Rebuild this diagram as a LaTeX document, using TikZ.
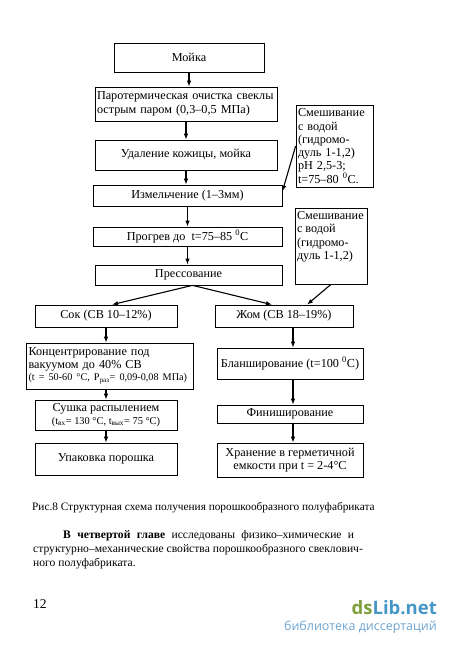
\documentclass[tikz,border=0pt]{standalone}
\usepackage{fontspec}
\setmainfont{Liberation Serif}
\newfontfamily\wmfont{Open Sans}
\usetikzlibrary{arrows.meta}
\definecolor{wmgreen}{RGB}{125,160,60}
\definecolor{wmblue}{RGB}{70,150,200}
\definecolor{wmlight}{RGB}{110,165,210}
\begin{document}
\begin{tikzpicture}[x=1pt,y=-1pt,
  box/.style={draw, line width=0.7pt, inner sep=2pt, font=\fontsize{12.2}{13.5}\selectfont, align=center},
  arr/.style={line width=1.1pt, -{Latex[length=6pt,width=4.5pt]}},
  txt/.style={anchor=base west, inner sep=0pt, font=\fontsize{11.6}{14}\selectfont}]
\useasboundingbox (0,0) rectangle (450,648);
\fill[white] (0,0) rectangle (450,648);

\node[box, minimum width=150pt, minimum height=29pt] (moika) at (189,57.5) {Мойка};
\node[box, minimum width=182pt, minimum height=34pt, text width=178pt, align=left] (paro) at (186,104) {Паротермическая очистка свеклы\\острым паром (0,3–0,5 МПа)};
\node[box, minimum width=182pt, minimum height=30pt] (udal) at (186,155) {Удаление кожицы, мойка};
\node[box, minimum width=189pt, minimum height=21pt] (izm) at (187.5,195.5) {Измельчение (1–3мм)};
\node[box, minimum width=189pt, minimum height=19pt] (progrev) at (187.5,236.5) {Прогрев до \ t=75–85 \textsuperscript{0}C};
\node[box, minimum width=187pt, minimum height=20pt] (press) at (188.5,275) {Прессование};

\node[box, minimum width=77pt, minimum height=82pt, text width=73pt, align=left, font=\fontsize{12.2}{13.3}\selectfont] (mix1) at (334.5,146) {Смешивание\\с водой\\(гидромо-\\дуль 1-1,2)\\pH 2,5-3;\\t=75–80 \textsuperscript{0}C.};
\node[box, minimum width=72pt, minimum height=76pt] (mix2) at (331,246) {\parbox[c][70pt][t]{68pt}{\raggedright Смешивание\\с водой\\(гидромо-\\дуль 1-1,2)}};

\node[box, minimum width=142pt, minimum height=22pt] (sok) at (106,316) {Сок (СВ 10–12\%)};
\node[box, minimum width=138pt, minimum height=22pt] (zhom) at (284,316) {Жом (СВ 18–19\%)};

\node[box, minimum width=166pt, minimum height=46pt, text width=163pt, align=left, font=\fontsize{12.2}{12.5}\selectfont] (konc) at (110,366) {Концентрирование под\\вакуумом до 40\% СВ\\\mbox{\fontsize{10.2}{11}\selectfont(t = 50-60 °C, P\textsubscript{раз}= 0,09-0,08 МПа)}};
\node[box, minimum width=146pt, minimum height=31pt] (blansh) at (290,363.5) {Бланширование (t=100 \textsuperscript{0}C)};
\node[box, minimum width=142pt, minimum height=30pt, font=\fontsize{12.2}{12.5}\selectfont] (sushka) at (106,415) {Сушка распылением\\\mbox{\fontsize{10.4}{11}\selectfont(t\textsubscript{вх}= 130 °C, t\textsubscript{вых}= 75 °C)}};
\node[box, minimum width=146pt, minimum height=18pt] (finish) at (290,414) {Финиширование};
\node[box, minimum width=142pt, minimum height=32pt] (upak) at (106,459) {Упаковка порошка};
\node[box, minimum width=146pt, minimum height=34pt] (hran) at (290,460) {Хранение в герметичной\\емкости при t = 2-4°C};

% arrows
\draw[arr] (moika.south) -- (moika.south |- paro.north);
\draw[arr] (paro.south) -- (paro.south |- udal.north);
\draw[arr] (udal.south) -- (udal.south |- izm.north);
\draw[arr] (izm.south) -- (izm.south |- progrev.north);
\draw[arr] (progrev.south) -- (progrev.south |- press.north);
\draw[arr] (mix1.west) -- ([yshift=4pt]izm.east);
\draw[arr] ([xshift=4pt]press.south) -- ([xshift=6pt]sok.north);
\draw[arr] ([xshift=4pt]press.south) -- ([xshift=-12pt]zhom.north);
\draw[arr] (mix2.south) -- ([xshift=23pt]zhom.north);
\draw[arr] (sok.south) -- (sok.south |- konc.north);
\draw[arr] (konc.south -| sok.south) -- (sok.south |- sushka.north);
\draw[arr] (sushka.south) -- (sushka.south |- upak.north);
\draw[arr] ([xshift=9pt]zhom.south) -- ([xshift=9pt]zhom.south |- blansh.north);
\draw[arr] ([xshift=3pt]blansh.south) -- ([xshift=3pt]blansh.south |- finish.north);
\draw[arr] ([xshift=3pt]finish.south) -- ([xshift=3pt]finish.south |- hran.north);

% caption and text
\node[txt, font=\fontsize{11.3}{12}\selectfont] (cap) at (32,510) {Рис.8 Структурная схема получения порошкообразного полуфабриката};
\node[txt] (p1) at (63,538) {\makebox[291pt][s]{\textbf{В четвертой главе} исследованы физико–химические и}};
\node[txt] (p2) at (33,552) {структурно–механические свойства порошкообразного свеклович-};
\node[txt] (p3) at (33,566) {ного полуфабриката.};
\node[txt, font=\fontsize{13.5}{15}\selectfont] (pg) at (33,608) {12};

% watermark
\node[anchor=base east, inner sep=0pt, font=\wmfont\bfseries\fontsize{18.5}{20}\selectfont] (wm) at (437,614) {\textcolor{wmgreen}{ds}\textcolor{wmblue}{Lib.net}};
\node[anchor=base east, inner sep=0pt, font=\wmfont\fontsize{12.5}{14}\selectfont, text=wmlight] (wm2) at (437,630) {библиотека диссертаций};
\end{tikzpicture}
\end{document}
